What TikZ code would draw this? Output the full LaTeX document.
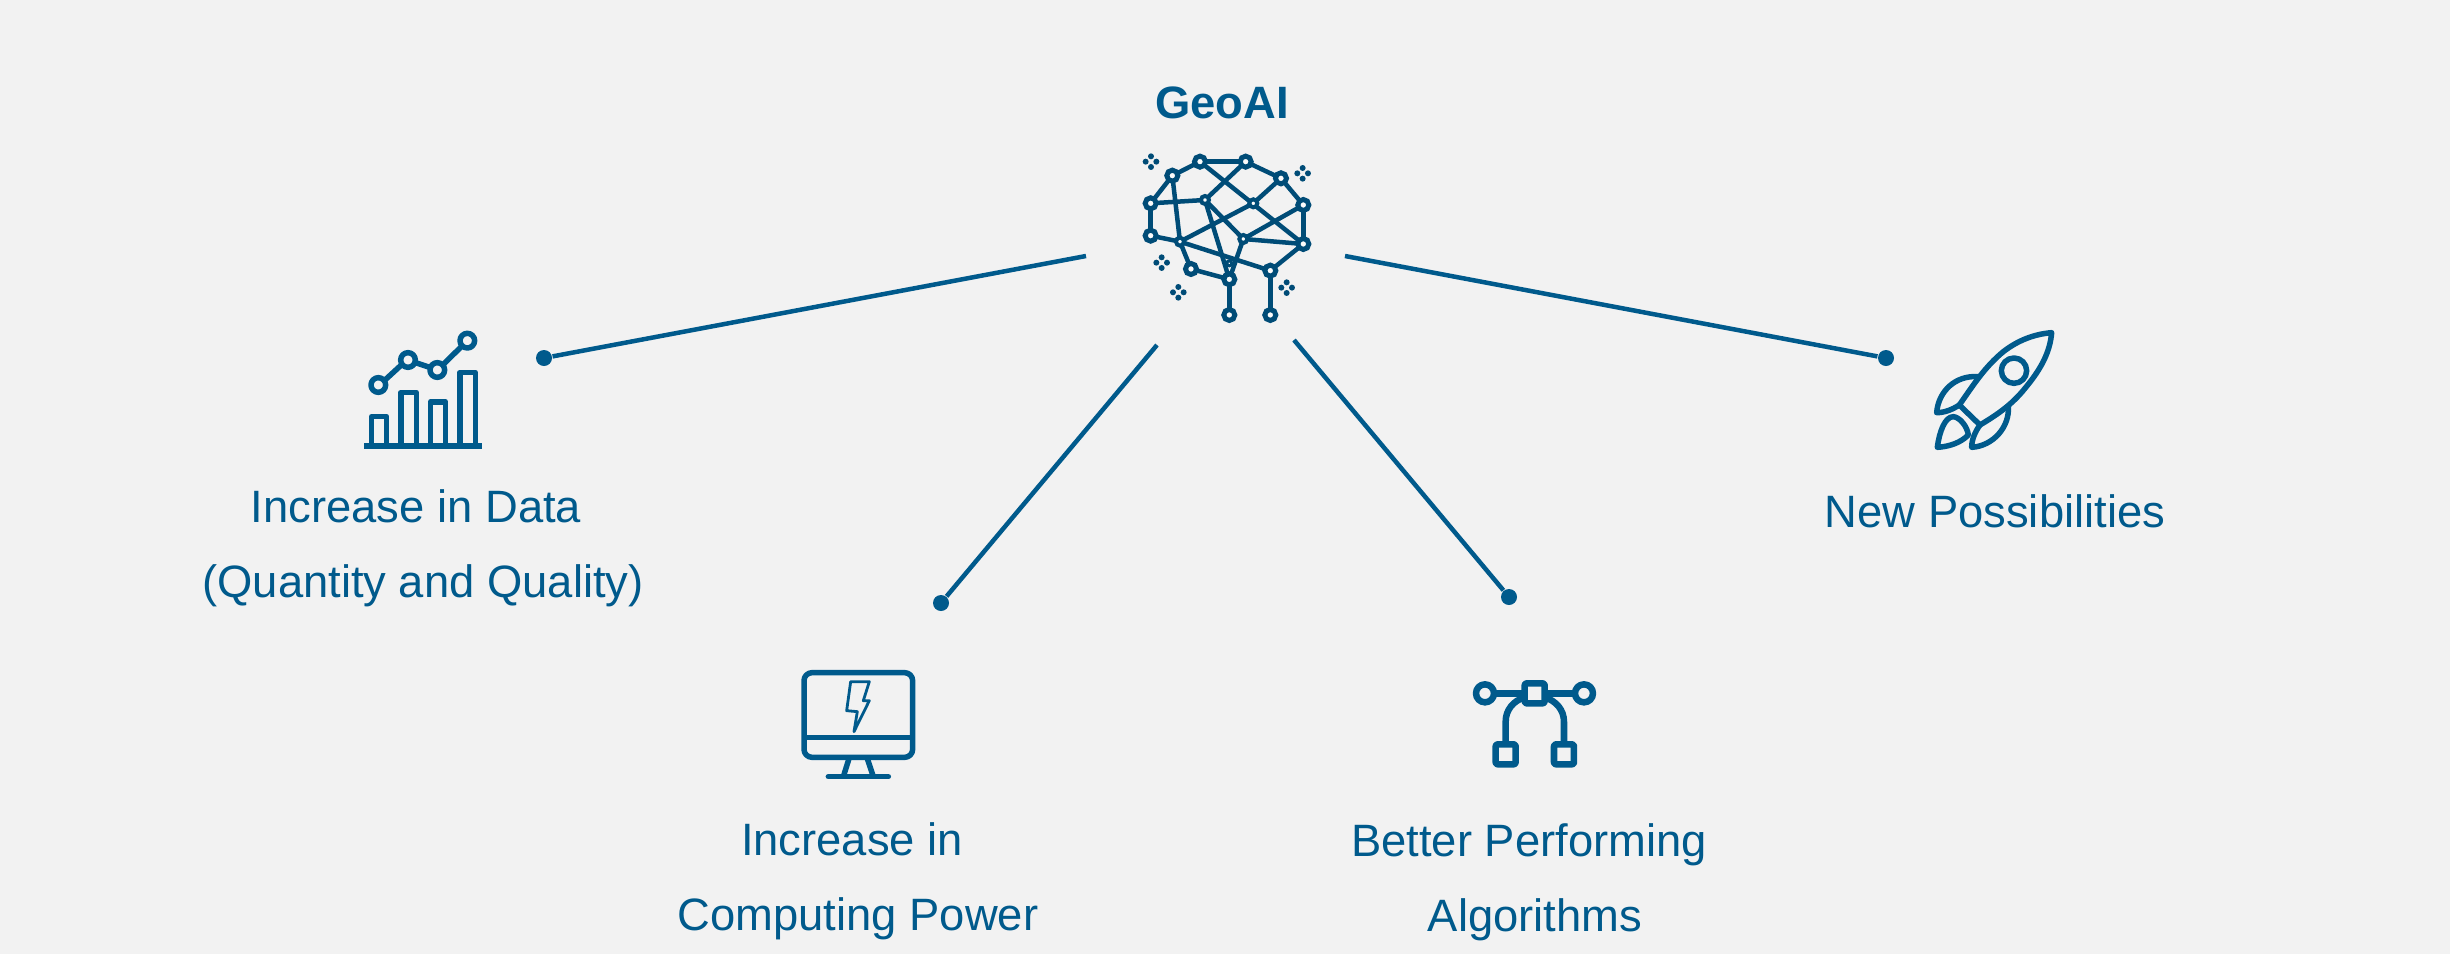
\documentclass[tikz,border=0pt]{standalone}
\usepackage{fontspec}
\setmainfont{Liberation Sans}
\definecolor{geoblue}{HTML}{005A8C}
\definecolor{panel}{HTML}{F2F2F2}
\tikzset{
	caption/.style={anchor=base,text=geoblue,inner sep=0pt,font=\fontsize{12.9}{15}\selectfont},
	title/.style={caption,font=\fontsize{12.9}{15}\selectfont\bfseries},
	link/.style={draw=geoblue,line width=0.045cm},
	dot/.style={circle,fill=geoblue,inner sep=0pt,minimum size=0.16cm},
	icon/.style={draw=geoblue,line width=0.055cm,line join=round},
	knot/.style={circle,draw=geoblue!85!black,fill=white!70!panel,line width=0.05cm,inner sep=0pt,minimum size=0.11cm},
	wire/.style={draw=geoblue!85!black,line width=0.045cm},
}
\begin{document}
\begin{tikzpicture}[x=0.01cm,y=-0.01cm]
		\useasboundingbox (0,0) rectangle (2450,954);
		\fill[panel] (0,0) rectangle (2450,954);

		\node[title] (geoai) at (1222,118) {GeoAI};
		\node[caption] (data1) at (416,522) {Increase in Data};
		\node[caption] (data2) at (423,597) {(Quantity and Quality)};
		\node[caption] (comp1) at (852,855) {Increase in};
		\node[caption] (comp2) at (858,930) {Computing Power};
		\node[caption] (algo1) at (1529,856) {Better Performing};
		\node[caption] (algo2) at (1535,931) {Algorithms};
		\node[caption] (new1) at (1995,527) {New Possibilities};

		% connectors
		\coordinate (dataEnd) at (1086,256);
		\coordinate (compEnd) at (1157,345);
		\coordinate (algoEnd) at (1294,340);
		\coordinate (newEnd) at (1345,256);
		\node[dot] (dataDot) at (544,358) {};
		\node[dot] (compDot) at (941,603) {};
		\node[dot] (algoDot) at (1509,597) {};
		\node[dot] (newDot) at (1886,358) {};
		\draw[link] (dataEnd) -- (dataDot);
		\draw[link] (compEnd) -- (compDot);
		\draw[link] (algoEnd) -- (algoDot);
		\draw[link] (newEnd) -- (newDot);

		% brain
		\begin{scope}[shift={(1100,60)},scale=0.3333]
			\foreach \nm/\px/\py in {a/152/430,b/217/347,c/300/305,d/437/305,e/543/355,f/610/435,g/610/552,h/511/632,i/430/537,j/460/430,k/315/420,l/152/527,m/240/545,n/273/627,o/388/658,p/388/610,q/388/765,r/511/765}
				\coordinate (\nm) at (\px,\py);
			\foreach \s/\t in {a/b,b/c,c/d,d/e,e/f,f/g,g/h,a/l,l/m,a/k,k/d,c/g,e/j,j/m,f/i,i/g,k/i,k/o,b/m,m/n,n/o,o/q,h/r,m/h,i/o}
				\draw[wire] (\s) -- (\t);
			\foreach \nm in {a,b,c,d,e,f,g,h,l,n,o,q,r}
				\node[knot] at (\nm) {};
			\foreach \nm in {i,j,k,m}
				\node[knot,minimum size=0.08cm,line width=0.04cm] at (\nm) {};
			\node[knot,minimum size=0.05cm,line width=0.03cm] at (p) {};
			\foreach \px/\py in {153/305,608/340,185/608,235/697,560/683}
				\foreach \dx/\dy in {-16/0,16/0,0/-16,0/16}
					\fill[geoblue!85!black] (\px+\dx,\py+\dy) circle (9);
		\end{scope}

		% chart
		\begin{scope}[shift={(340,310)},scale=0.3333]
			\draw[icon] (95,408) -- (95,320) -- (140,320) -- (140,408);
			\draw[icon] (183,408) -- (183,247) -- (229,247) -- (229,408);
			\draw[icon] (271,408) -- (271,276) -- (317,276) -- (317,408);
			\draw[icon] (360,408) -- (360,187) -- (406,187) -- (406,408);
			\draw[icon,line width=0.06cm] (72,408) -- (425,408);
			\draw[icon] (115,225) circle (22);
			\draw[icon] (204,150) circle (22);
			\draw[icon] (292,180) circle (22);
			\draw[icon] (382,92) circle (22);
			\draw[icon] (135,210) -- (184,165);
			\draw[icon] (227,158) -- (269,172);
			\draw[icon] (310,163) -- (364,110);
		\end{scope}

		% monitor
		\begin{scope}[shift={(780,660)},scale=0.3333]
			\draw[icon,rounded corners=0.08cm] (72,38) rectangle (398,292);
			\draw[icon] (72,232) -- (398,232);
			\draw[icon] (207,296) -- (190,350);
			\draw[icon] (262,296) -- (280,350);
			\draw[icon,line cap=round] (145,350) -- (325,350);
			\draw[icon,line width=0.028cm] (212,65) -- (268,65) -- (250,122) -- (268,122) -- (222,215) -- (232,155) -- (200,152) -- cycle;
		\end{scope}

		% curve tool
		\begin{scope}[shift={(1450,660)},scale=0.3333]
			\draw[icon,line width=0.065cm] (132,100) -- (224,100);
			\draw[icon,line width=0.065cm] (284,100) -- (375,100);
			\draw[icon,line width=0.065cm] (105,100) circle (27);
			\draw[icon,line width=0.065cm] (402,100) circle (27);
			\draw[icon,line width=0.065cm,rounded corners=0.02cm] (224,70) rectangle (284,130);
			\draw[icon,line width=0.065cm,rounded corners=0.02cm] (137,253) rectangle (197,313);
			\draw[icon,line width=0.065cm,rounded corners=0.02cm] (312,253) rectangle (372,313);
			\draw[icon,line width=0.065cm] (167,253) -- (167,185) .. controls (167,150) and (190,122) .. (224,112);
			\draw[icon,line width=0.065cm] (342,253) -- (342,185) .. controls (342,150) and (318,122) .. (284,112);
		\end{scope}

		% rocket
		\begin{scope}[shift={(1910,310)},scale=0.3333]
			\draw[icon] (148,285) .. controls (190,225) and (225,170) .. (280,125) .. controls (325,90) and (375,72) .. (425,68) .. controls (420,125) and (395,175) .. (345,235) .. controls (305,285) and (260,315) .. (210,345) -- cycle;
			\draw[icon] (312,182) circle (38);
			\draw[icon] (205,200) .. controls (135,195) and (85,245) .. (80,308) .. controls (105,308) and (128,298) .. (148,285);
			\draw[icon] (295,288) .. controls (300,350) and (250,408) .. (185,412) .. controls (185,390) and (195,365) .. (210,345);
			\draw[icon] (82,412) .. controls (88,365) and (105,320) .. (130,320) .. controls (150,322) and (172,350) .. (175,375) .. controls (150,400) and (115,410) .. (82,412) -- cycle;
		\end{scope}
    \end{tikzpicture}
\end{document}
